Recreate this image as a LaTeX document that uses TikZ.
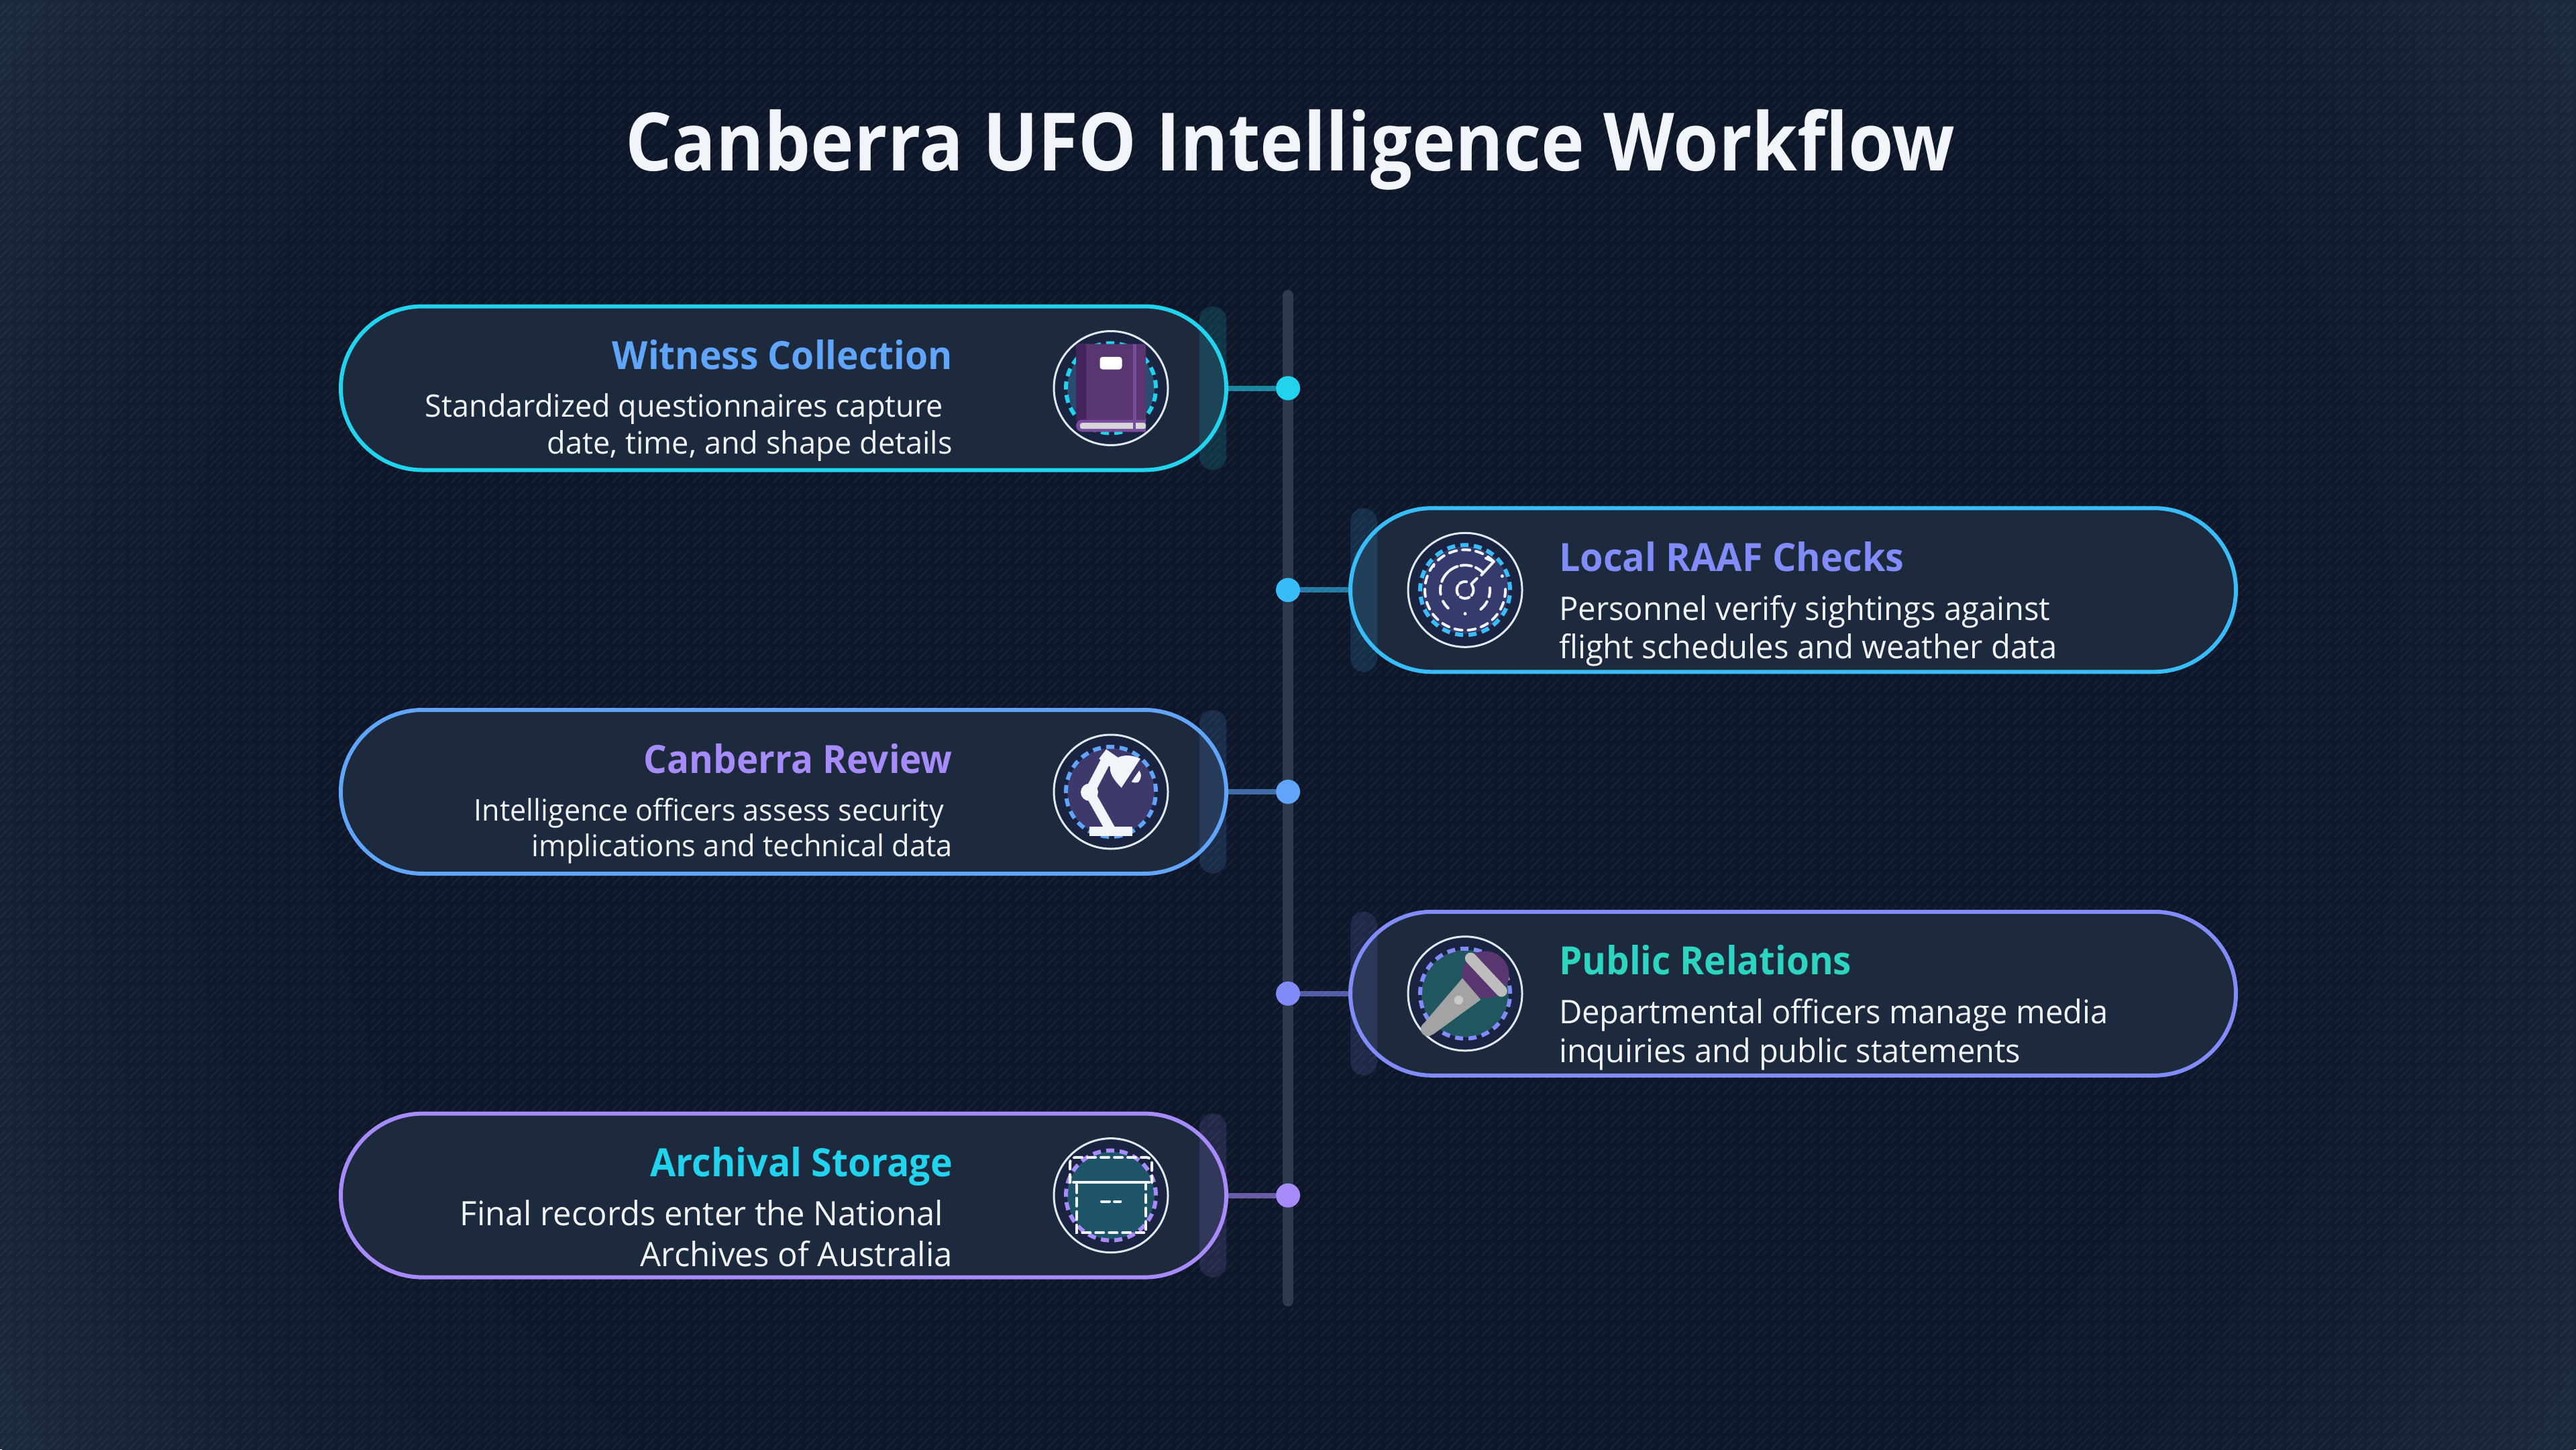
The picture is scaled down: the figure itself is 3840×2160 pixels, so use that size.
\documentclass[tikz,border=0pt]{standalone}
\usepackage{fontspec}
\usepackage{graphicx}
\usetikzlibrary{patterns}
\setmainfont{Open Sans}
\definecolor{cCyan}{HTML}{22D3EE}
\definecolor{cSky}{HTML}{38BDF8}
\definecolor{cBlue}{HTML}{60A5FA}
\definecolor{cIndigo}{HTML}{818CF8}
\definecolor{cViolet}{HTML}{A78BFA}
\definecolor{cTeal}{HTML}{2DD4BF}
\definecolor{cInk}{HTML}{F1F5F9}
\definecolor{cPill}{HTML}{1D2A3D}
\definecolor{cHalo}{HTML}{1A2440}
\definecolor{cRim}{HTML}{E2E8F0}
\definecolor{cTrack}{HTML}{2C3B50}
\definecolor{cStripe}{HTML}{94A3B8}
\definecolor{bgDark}{HTML}{0E1729}
\definecolor{bgEdge}{HTML}{1C2A3E}
\definecolor{bookCover}{HTML}{5A3670}
\definecolor{bookSpine}{HTML}{42245B}
\definecolor{bookBand}{HTML}{7A4C9E}
\definecolor{bookPage}{HTML}{D6D6D6}
\definecolor{micBody}{HTML}{A3A3A3}
\definecolor{micBand}{HTML}{BDBDBD}
\definecolor{micDot}{HTML}{C9C9C9}
\definecolor{discA}{HTML}{2B4A70}
\definecolor{discB}{HTML}{363A6C}
\definecolor{discC}{HTML}{3D3A6B}
\definecolor{discD}{HTML}{1F5660}
\definecolor{discE}{HTML}{1E5468}
\pgfdeclarepatternformonly{stripetile}{\pgfqpoint{0pt}{0pt}}{\pgfqpoint{24pt}{24pt}}{\pgfqpoint{24pt}{24pt}}{%
  \pgfsetlinewidth{2pt}\pgfsetroundcap
  \pgfpathmoveto{\pgfqpoint{2pt}{2pt}}\pgfpathlineto{\pgfqpoint{21pt}{21pt}}
  \pgfpathmoveto{\pgfqpoint{2pt}{13pt}}\pgfpathlineto{\pgfqpoint{10pt}{21pt}}
  \pgfpathmoveto{\pgfqpoint{13pt}{2pt}}\pgfpathlineto{\pgfqpoint{21pt}{10pt}}
  \pgfusepath{stroke}}
\newcommand{\fitw}[2]{\resizebox{#1pt}{\height}{#2}}
\newcommand{\headfont}{\fontsize{58}{60}\selectfont\bfseries}
\newcommand{\bodysize}[1]{\fontsize{#1}{#1}\selectfont}
\tikzset{
  pillfill/.style={rectangle,minimum width=1320pt,minimum height=244pt,inner sep=0pt,outer sep=0pt,rounded corners=122pt,fill=cPill},
  pillring/.style={rectangle,minimum width=1320pt,minimum height=244pt,inner sep=0pt,outer sep=0pt,rounded corners=122pt,line width=6pt},
  barshape/.style={rectangle,minimum width=40pt,minimum height=244pt,inner sep=0pt,outer sep=0pt,rounded corners=20pt,fill opacity=.15},
  dotshape/.style={circle,minimum size=36pt,inner sep=0pt,outer sep=0pt},
  conn/.style={line width=8pt,draw opacity=.6},
  headL/.style={anchor=base east,inner sep=0pt,font=\headfont},
  headR/.style={anchor=base west,inner sep=0pt,font=\headfont},
  bodyL/.style={anchor=base east,inner sep=0pt,text=cInk,font=\bodysize{#1}},
  bodyR/.style={anchor=base west,inner sep=0pt,text=cInk,font=\bodysize{#1}},
  glyph/.style={draw=cInk,line width=4pt,line cap=round},
}
\newcommand{\iconbase}[4]{% cx, cy, disc, accent
  \fill[cHalo] (#1,#2) circle[radius=85pt];
  \draw[cRim,line width=3pt] (#1,#2) circle[radius=85pt];
  \fill[#3] (#1,#2) circle[radius=65pt];
  \draw[#4,line width=6pt,dash pattern=on 12pt off 8.05pt] (#1,#2) circle[radius=67pt];
}
\newcommand{\stageL}[3]{% id, cy, accent
  \node[pillfill] (p#1) at (1168,#2) {};
  \node[barshape,fill=#3] (b#1) at (1808,#2) {};
  \node[dotshape,fill=#3] (d#1) at (1920,#2) {};
  \draw[conn,draw=#3] (p#1.east) -- (d#1);
  \node[pillring,draw=#3] (r#1) at (1168,#2) {};
}
\newcommand{\stageR}[3]{% id, cy, accent
  \node[pillfill] (p#1) at (2673,#2) {};
  \node[barshape,fill=#3] (b#1) at (2033,#2) {};
  \node[dotshape,fill=#3] (d#1) at (1920,#2) {};
  \draw[conn,draw=#3] (p#1.west) -- (d#1);
  \node[pillring,draw=#3] (r#1) at (2673,#2) {};
}
\begin{document}
\begin{tikzpicture}[x=1pt,y=-1pt]
\useasboundingbox (0,0) rectangle (3840,2160);
\fill[bgEdge] (0,0) rectangle (3840,2160);
\begin{scope}
  \clip (0,0) rectangle (3840,2160);
  \foreach \rr in {2200,2170,...,1200} {
    \pgfmathsetmacro{\pp}{100*((\rr-1200)/1003)^2.6}
    \fill[bgEdge!\pp!bgDark] (1920,1080) circle[radius=\rr pt];
  }
\end{scope}
\fill[pattern=stripetile,pattern color=cStripe,fill opacity=.09] (0,0) rectangle (3840,2160);

\node[anchor=base west,inner sep=0pt,text=cInk,font=\fontsize{120}{130}\selectfont\bfseries] (title) at (932,254)
  {\fitw{1982}{Canberra UFO Intelligence Workflow}};

\coordinate (tracktop) at (1920,440);
\coordinate (trackend) at (1920,1939);
\draw[cTrack,line width=16pt,line cap=round] (tracktop) -- (trackend);

\stageL{1}{578.5}{cCyan}
\stageR{2}{879.3}{cSky}
\stageL{3}{1180}{cBlue}
\stageR{4}{1480.8}{cIndigo}
\stageL{5}{1781.6}{cViolet}

% texts
\node[headL,text=cBlue] (h1) at (1420,550.7) {\fitw{507}{Witness Collection}};
\node[bodyL=46] (a1) at (1406,621.7) {\fitw{772}{Standardized questionnaires capture}};
\node[bodyL=46] (c1) at (1420,676.7) {\fitw{604}{date, time, and shape details}};

\node[headR,text=cIndigo] (h2) at (2324,851.7) {\fitw{514}{Local RAAF Checks}};
\node[bodyR=48.5] (a2) at (2324,924) {\fitw{732}{Personnel verify sightings against}};
\node[bodyR=48.5] (c2) at (2324,981.7) {\fitw{742}{flight schedules and weather data}};

\node[headL,text=cViolet] (h3) at (1420,1152.7) {\fitw{460}{Canberra Review}};
\node[bodyL=44.5] (a3) at (1407,1223.3) {\fitw{700}{Intelligence officers assess security}};
\node[bodyL=44.5] (c3) at (1420,1276.7) {\fitw{627}{implications and technical data}};

\node[headR,text=cTeal] (h4) at (2324,1452.7) {\fitw{436}{Public Relations}};
\node[bodyR=48.5] (a4) at (2324,1525) {\fitw{818}{Departmental officers manage media}};
\node[bodyR=48.5] (c4) at (2324,1583.3) {\fitw{688}{inquiries and public statements}};

\node[headL,text=cCyan] (h5) at (1420,1753.3) {\fitw{450}{Archival Storage}};
\node[bodyL=50] (a5) at (1406,1826.7) {\fitw{720}{Final records enter the National}};
\node[bodyL=50] (c5) at (1420,1887.3) {\fitw{465}{Archives of Australia}};

% icon 1: book
\iconbase{1656}{578.5}{discA}{cCyan}
\begin{scope}[shift={(1656,578.5)},x=1pt,y=1pt]
  \fill[bookCover,rounded corners=3pt] (-52,-50) rectangle (52,66);
  \fill[bookSpine,rounded corners=3pt] (-52,-50) rectangle (-37,66);
  \fill[bookBand] (32.5,-50) rectangle (38,66);
  \fill[white,rounded corners=4pt] (-16.5,46.7) rectangle (16.5,28);
  \fill[bookBand] (-52,-56) arc[start angle=180,end angle=90,radius=9pt] -- (52,-47) -- (52,-65) -- (-43,-65) arc[start angle=270,end angle=180,radius=9pt] -- cycle;
  \fill[bookPage,rounded corners=3pt] (-46,-51.7) rectangle (52,-60.7);
  \fill[bookBand] (32.5,-47) rectangle (37,-65);
\end{scope}

% icon 2: radar
\iconbase{2184}{879.3}{discB}{cSky}
\begin{scope}[shift={(2184,879.3)},x=1pt,y=1pt]
  \draw[glyph,dash pattern=on 11pt off 9pt] (45:60) arc[start angle=45,end angle=368,radius=60pt];
  \draw[glyph] (42.7,42.3) -- (31,47.3);
  \draw[glyph] (42.7,42.3) -- (24.3,22.3);
  \draw[glyph] (17.7,17.3) -- (9.3,9);
  \draw[glyph] (5:37) arc[start angle=5,end angle=-16,radius=37pt];
  \draw[glyph] (-28:37) arc[start angle=-28,end angle=-51,radius=37pt];
  \draw[glyph] (-133:37) arc[start angle=-133,end angle=-153,radius=37pt];
  \draw[glyph] (-170:37) arc[start angle=-170,end angle=-190,radius=37pt];
  \draw[glyph] (160:37) arc[start angle=160,end angle=133,radius=37pt];
  \draw[glyph] (129:37) arc[start angle=129,end angle=108,radius=37pt];
  \draw[glyph] (100:37) arc[start angle=100,end angle=75,radius=37pt];
  \draw[glyph] (65:37) arc[start angle=65,end angle=44,radius=37pt];
  \draw[glyph] (35:12.5) arc[start angle=35,end angle=-40,radius=12.5pt];
  \draw[glyph] (-60:12.5) arc[start angle=-60,end angle=-125,radius=12.5pt];
  \draw[glyph] (-145:12.5) arc[start angle=-145,end angle=-215,radius=12.5pt];
  \draw[glyph] (130:12.5) arc[start angle=130,end angle=80,radius=12.5pt];
  \fill[cInk] (-47.3,35.7) circle[radius=2.5pt] (55.3,20.7) circle[radius=2.5pt] (0,-35.3) circle[radius=2.5pt];
\end{scope}

% icon 3: lamp
\iconbase{1656}{1180}{discC}{cBlue}
\begin{scope}[shift={(1656,1180)},x=1pt,y=1pt]
  \fill[cInk] (-32.3,-52.3) rectangle (32.3,-65.7);
  \draw[cInk,line width=15pt] (-32,-0.7) -- (-1,-55.7);
  \draw[cInk,line width=15pt] (-32,-0.7) -- (-7.7,46);
  \fill[cInk] (-32,-0.7) circle[radius=13pt];
  \fill[cInk] (-7,63.3) -- (-17.7,49.3) -- (0.7,36) -- (10.7,51) -- cycle;
  \fill[cInk] (15.7,6) .. controls (-1,22.7) and (-4,34) .. (0.7,42.7) .. controls (5,50) and (20,60) .. (44,49.3) -- cycle;
  \fill[cInk] (30.7,15) -- (42.3,31.7) .. controls (46,27) and (46,20) .. (40.7,14.3) .. controls (37,13) and (33,13.5) .. (30.7,15) -- cycle;
\end{scope}

% icon 4: microphone
\iconbase{2184}{1480.8}{discD}{cIndigo}
\begin{scope}[shift={(2184,1480.8)},x=1pt,y=1pt]
  \fill[bookCover] (30.3,28.3) circle[radius=35pt];
  \fill[micBody] (-4,23) -- (23.3,-9) -- (-48,-61) -- (-63,-46) -- cycle;
  \fill[micBody] (-55.7,-53) circle[radius=10.5pt];
  \draw[micBand,line width=17pt,line cap=round] (8.3,52.7) -- (54.3,3.7);
  \fill[micDot] (-9.7,-9.7) circle[radius=6.7pt];
\end{scope}

% icon 5: archive box
\iconbase{1656}{1781.6}{discE}{cViolet}
\begin{scope}[shift={(1656,1781.6)},x=1pt,y=1pt]
  \draw[glyph,rounded corners=8pt,dash pattern=on 12pt off 8pt] (-61,19.3) -- (-61,56.7) -- (61,56.7) -- (61,19.3);
  \draw[glyph] (-56,19.3) -- (57,19.3);
  \draw[glyph,dash pattern=on 12pt off 8pt] (-51,16) -- (-51,-55.7) -- (52.3,-55.7) -- (52.3,16);
  \draw[glyph,dash pattern=on 12pt off 7pt] (-14,-9) -- (14.3,-9);
\end{scope}
\end{tikzpicture}
\end{document}
